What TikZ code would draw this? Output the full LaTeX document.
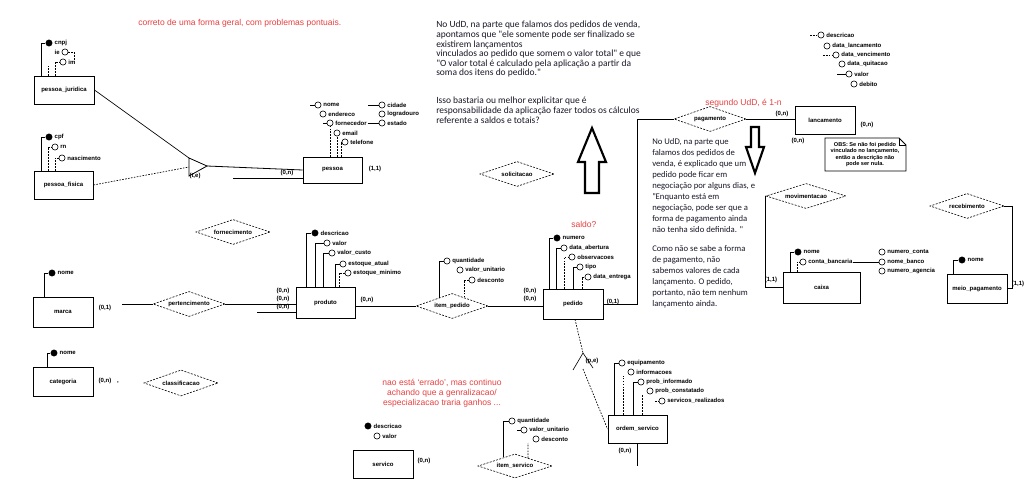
\documentclass[tikz,border=0pt]{standalone}
\usepackage{fontspec}
\newfontfamily\lblfont{Liberation Sans}
\newfontfamily\cmtfont{Carlito}
\usetikzlibrary{shapes.geometric,calc}
\definecolor{redtxt}{RGB}{232,64,64}
\definecolor{cmtcol}{RGB}{25,25,40}
\newcommand{\eratr}[4]{\node[#4] (#1) at (#2) {};\node[lbl, anchor=west] (#1t) at ([xshift=0.8pt]#1.east) {#3};}
\begin{document}
\begin{tikzpicture}[x=0.75pt,y=-0.75pt,
 lbl/.style={font=\lblfont\bfseries\fontsize{4.5}{5}\selectfont, inner sep=0.5pt},
 entity/.style={draw, line width=0.7pt, rectangle, inner sep=0pt, font=\lblfont\bfseries\fontsize{4.5}{5}\selectfont},
 rel/.style={draw, dash pattern=on 1.5pt off 1pt, line width=0.45pt, shape=diamond, aspect=3, inner sep=0pt, font=\lblfont\bfseries\fontsize{4.5}{5}\selectfont},
 att/.style={draw, circle, minimum size=4.6pt, inner sep=0pt, line width=0.45pt},
 keyat/.style={circle, fill=black, minimum size=5.2pt, inner sep=0pt},
 conn/.style={line width=0.6pt},
 dconn/.style={line width=0.5pt, dash pattern=on 1.2pt off 1pt},
 card/.style={lbl},
 redt/.style={font=\lblfont\fontsize{6.4}{7.5}\selectfont, text=redtxt, inner sep=0pt},
 cmt/.style={font=\cmtfont\fontsize{7.1}{7.2}\selectfont, text=cmtcol, align=left, inner sep=0pt, anchor=north west},
 cmtb/.style={font=\cmtfont\fontsize{6.5}{8.25}\selectfont, text=cmtcol, align=left, inner sep=0pt, anchor=north west},
 notet/.style={font=\lblfont\bfseries\fontsize{4.2}{4.9}\selectfont, align=center, inner sep=0pt},
 bigarrow/.style={line width=1.6pt, line join=miter}
]
\fill[white] (0,0) rectangle (1029,481);
\useasboundingbox (0,0) rectangle (1029,481);

% ---------- comments ----------
\node[redt, anchor=west] (r1) at (138,23) {correto de uma forma geral, com problemas pontuais.};
\node[redt, anchor=west] (r2) at (705,103) {segundo UdD, é 1-n};
\node[redt, anchor=west] (r3) at (571,224) {saldo?};
\node[redt, align=center] (r4) at (442,393) {nao está ‘errado’, mas continuo\\achando que a genralizacao/\\especializacao traria ganhos ...};

\node[cmt] (t1) at (436,21) {No UdD, na parte que falamos dos pedidos de venda,\\apontamos que "ele somente pode ser finalizado se\\existirem lançamentos\\vinculados ao pedido que somem o valor total" e que\\"O valor total é calculado pela aplicação a partir da\\soma dos itens do pedido."\\[13.8pt]Isso bastaria ou melhor explicitar que é\\responsabilidade da aplicação fazer todos os cálculos\\referente a saldos e totais?};

\node[cmtb] (t2) at (652,138.5) {No UdD, na parte que\\falamos dos pedidos de\\venda, é explicado que um\\pedido pode ficar em\\negociação por alguns dias, e\\"Enquanto está em\\negociação, pode ser que a\\forma de pagamento ainda\\não tenha sido definida. "\\[6pt]Como não se sabe a forma\\de pagamento, não\\sabemos valores de cada\\lançamento. O pedido,\\portanto, não tem nenhum\\lançamento ainda.};

% big arrows
\draw[bigarrow] (592,128) -- (606,162) -- (599,162) -- (599,193) -- (585,193) -- (585,162) -- (578,162) -- cycle;
\draw[bigarrow] (751,127) -- (759,127) -- (759,147) -- (764,147) -- (755,173) -- (746,147) -- (751,147) -- cycle;

% note
\draw[line width=0.55pt] (825,138) -- (899,138) -- (906,145) -- (906,171) -- (825,171) -- cycle;
\draw[line width=0.35pt] (899,138) -- (899,145) -- (906,145);
\node[notet] (nt) at (865,154.5) {OBS: Se não foi pedido\\vinculado no lançamento,\\então a descrição não\\pode ser nula.};

% ---------- entities ----------
\node[entity, minimum width=45pt, minimum height=21pt] (pj) at (64,90) {pessoa\_juridica};
\node[entity, minimum width=44.25pt, minimum height=21pt] (pf) at (63.5,185) {pessoa\_fisica};
\node[entity, minimum width=44.25pt, minimum height=19.5pt] (ps) at (332.5,170) {pessoa};
\node[entity, minimum width=44.25pt, minimum height=23.25pt] (pr) at (325.5,302.5) {produto};
\node[entity, minimum width=45pt, minimum height=22.5pt] (pe) at (573,304) {pedido};
\node[entity, minimum width=45pt, minimum height=22.5pt] (ma) at (63,312) {marca};
\node[entity, minimum width=45pt, minimum height=21.75pt] (ca) at (63,381.5) {categoria};
\node[entity, minimum width=45pt, minimum height=21pt] (sv) at (383,464) {servico};
\node[entity, minimum width=44.25pt, minimum height=21pt] (os) at (637.5,429) {ordem\_servico};
\node[entity, minimum width=45pt, minimum height=21pt] (la) at (825,120) {lancamento};
\node[entity, minimum width=57.75pt, minimum height=23.25pt] (cx) at (821.5,287.5) {caixa};
\node[entity, minimum width=45pt, minimum height=21.75pt] (mp) at (977,288.5) {meio\_pagamento};

% ---------- relationships ----------
\node[rel, minimum width=55.5pt, minimum height=18.75pt] (fo) at (233,232) {fornecimento};
\node[rel, minimum width=54pt, minimum height=18.75pt] (pt) at (189,304) {pertencimento};
\node[rel, minimum width=55.5pt, minimum height=19.5pt] (cl) at (181,383) {classificacao};
\node[rel, minimum width=55.5pt, minimum height=18.75pt] (so) at (517,174) {solicitacao};
\node[rel, minimum width=54pt, minimum height=18.75pt] (ip) at (452,306) {item\_pedido};
\node[rel, minimum width=55.5pt, minimum height=18pt] (is) at (515,466) {item\_servico};
\node[rel, minimum width=54pt, minimum height=18.75pt] (pg) at (710,119) {pagamento};
\node[rel, minimum width=60pt, minimum height=18.75pt] (mv) at (806,196) {movimentacao};
\node[rel, minimum width=55.5pt, minimum height=18.75pt] (rc) at (967,206) {recebimento};

% ---------- attributes ----------
% pessoa_juridica
\eratr{pj1}{49,43}{cnpj}{keyat}
\node[att] (pj2) at (65,52) {};\node[lbl, anchor=east] (pj2t) at ([xshift=-0.8pt]pj2.west) {ie};
\eratr{pj3}{63,62}{im}{att}
\draw[conn] (pj.north -| 41,0) |- (pj1.west);
\coordinate (pjd1) at (48,66); \draw[dconn] (pj.north -| pjd1) -- (pjd1);
\coordinate (pjd2) at (55,62); \draw[dconn] (pj.north -| pjd2) |- (pj3.west);
\coordinate (pjd4) at (74,60); \draw[dconn] (pj2.east) -| (pjd4);
% pessoa_fisica
\eratr{pf1}{49,137}{cpf}{keyat}
\eratr{pf2}{55,147}{rn}{att}
\eratr{pf3}{62,158}{nascimento}{att}
\draw[conn] (pf.north -| 41,0) |- (pf1.west);
\draw[dconn] (pf.north -| 48,0) |- (pf2.west);
\draw[dconn] (pf.north -| 55,0) |- (pf3.west);
% pessoa
\eratr{ps1}{318,105}{nome}{att}
\eratr{ps2}{323,114}{endereco}{att}
\eratr{ps3}{330,123}{fornecedor}{att}
\eratr{ps4}{382,105}{cidade}{att}
\eratr{ps5}{382,114}{logradouro}{att}
\eratr{ps6}{382,123}{estado}{att}
\eratr{ps7}{337,133}{email}{att}
\eratr{ps8}{345,142}{telefone}{att}
\coordinate (ps1a) at (310,105); \draw[conn] (ps1a) -- (ps1.west);
\coordinate (ps3a) at (323,123); \draw[conn] (ps3a) -- (ps3.west);
\coordinate (ps4a) at (368,105); \draw[conn] (ps4a) -- (ps4.west);
\draw[conn] (ps3t.east) -- (ps6.west);
\draw[dconn] (ps.north -| ps3) -- (ps3.south);
\draw[dconn] (ps.north -| ps7) -- (ps7.south);
\draw[dconn] (ps.north -| 341,0) |- (ps8.west);
% produto
\eratr{pr1}{315,233}{descricao}{keyat}
\eratr{pr2}{327,243}{valor}{att}
\eratr{pr3}{332,253}{valor\_custo}{att}
\eratr{pr4}{343,264}{estoque\_atual}{att}
\eratr{pr5}{348,273}{estoque\_minimo}{att}
\draw[conn] (pr.north -| 306,0) |- (pr1.west);
\draw[conn] (pr.north -| 315,0) |- (pr2.west);
\draw[conn] (pr.north -| 323,0) |- (pr3.west);
\draw[conn] (pr.north -| 335,0) |- (pr4.west);
\draw[dconn] (pr.north -| 339,0) |- (pr5.west);
% item_pedido
\eratr{ip1}{447,261}{quantidade}{att}
\eratr{ip2}{460,270}{valor\_unitario}{att}
\eratr{ip3}{472,280}{desconto}{att}
\draw[conn] ($(ip.north)!0.36!(ip.west)$) |- (ip1.west);
\draw[dconn] ($(ip.north)!0.33!(ip.east)$) |- (ip3.west);
% pedido
\eratr{pe1}{557,238}{numero}{keyat}
\eratr{pe2}{564,248}{data\_abertura}{att}
\eratr{pe3}{572,257}{observacoes}{att}
\eratr{pe4}{580,267}{tipo}{att}
\eratr{pe5}{588,277}{data\_entrega}{att}
\draw[conn] (pe.north -| 549,0) |- (pe1.west);
\draw[conn] (pe.north -| 556,0) |- (pe2.west);
\draw[dconn] (pe.north -| 564,0) |- (pe3.west);
\draw[conn] (pe.north -| 573,0) |- (pe4.west);
\draw[dconn] (pe.north -| 582,0) |- (pe5.west);
% lancamento
\eratr{la1}{821,35}{descricao}{att}
\eratr{la2}{827,46}{data\_lancamento}{att}
\eratr{la3}{836,55}{data\_vencimento}{att}
\eratr{la4}{842,64}{data\_quitacao}{att}
\eratr{la5}{849,74}{valor}{att}
\eratr{la6}{854,84}{debito}{att}
\coordinate (la1a) at (810,35); \draw[dconn] (la1a) -- (la1.west);
\coordinate (la3a) at (823,55); \draw[dconn] (la3a) -- (la3.west);
\coordinate (la5a) at (837,74); \draw[conn] (la5a) -- (la5.west);
% marca, categoria
\eratr{ma1}{52,273}{nome}{keyat}
\draw[conn] (ma.north -| 44,0) |- (ma1.west);
\eratr{ca1}{54,353}{nome}{keyat}
\draw[conn] (ca.north -| 47,0) |- (ca1.west);
% servico
\eratr{sv1}{368,426}{descricao}{keyat}
\eratr{sv2}{377,436}{valor}{att}
% item_servico
\eratr{is1}{512,421}{quantidade}{att}
\eratr{is2}{524,430}{valor\_unitario}{att}
\eratr{is3}{536,439}{desconto}{att}
\draw[conn] ($(is.north)!0.3!(is.west)$) |- (is1.west);
\coordinate (is2a) at (517,430); \draw[conn] (is2a) -- (is2.west);
\coordinate (is3a) at (528,443); \draw[dconn] ($(is.north)!0.35!(is.east)$) -- (is3a);
% ordem_servico
\eratr{os1}{622,363}{equipamento}{att}
\eratr{os2}{631,372}{informacoes}{att}
\eratr{os3}{641,382}{prob\_informado}{att}
\eratr{os4}{650,391}{prob\_constatado}{att}
\eratr{os5}{662,401}{servicos\_realizados}{att}
\draw[conn] (os.north -| 614,0) |- (os1.west);
\coordinate (os2a) at (623,376); \draw[dconn] (os.north -| os2a) -- (os2a);
\draw[conn] (os.north -| 633,0) |- (os3.west);
\coordinate (os4a) at (642,395); \draw[dconn] (os.north -| os4a) -- (os4a);
\coordinate (os5a) at (655,401); \draw[dconn] (os5a) -- (os5.west);
% caixa
\eratr{cx1}{798,252}{nome}{keyat}
\eratr{cx2}{803,262}{conta\_bancaria}{att}
\eratr{cx3}{882,252}{numero\_conta}{att}
\eratr{cx4}{882,262}{nome\_banco}{att}
\eratr{cx5}{882,271}{numero\_agencia}{att}
\draw[conn] (cx.north -| 790,0) |- (cx1.west);
\draw[dconn] (cx.north -| 797,0) |- (cx2.west);
\draw[conn] (cx2t.east) -- (cx4.west);
% meio_pagamento
\eratr{mp1}{962,260}{nome}{keyat}
\draw[conn] (mp.north -| 953,0) |- (mp1.west);

% ---------- connectors ----------
\coordinate (gT) at (189,158); \coordinate (gB) at (189,176);
\coordinate (gA) at (207,166); \coordinate (gM) at (189,167);
\draw[conn] (gT) -- (gA) -- (gB) -- cycle;
\draw[line width=0.5pt] (pj.east) -- (gT);
\draw[dconn] (pf.east) -- (gM);
\draw[conn] (gA) -- (ps.west);
\coordinate (g2) at (233,178); \draw[conn] (g2) -- (g2 -| ps.west);

\coordinate (m1) at (122,304); \draw[conn] (m1) -- (pt.west);
\draw[conn] (pt.east) -- (pt.east -| pr.west);
\coordinate (m2) at (257,312); \draw[conn] (m2) -- (m2 -| pr.west);
\draw[conn] (pr.east |- ip.west) -- (ip.west);
\draw[conn] (ip.east) -- (ip.east -| pe.west);
\draw[conn] (pe.east) -| (pg.west -| 637,0) -- (pg.west);
\draw[conn] (pg.east) -- (pg.east -| la.west);
\draw[conn] (mv.west) |- (cx.west);
\draw[conn] (rc.east) -| (mp.east -| 1012,0) -- (mp.east);

\coordinate (sA) at (583,353); \coordinate (sL) at (573,370);
\coordinate (sR) at (593,368); \coordinate (sM) at (583,369);
\draw[dconn] (pe.south -| 575,0) -- (sA);
\draw[line width=0.45pt] (sL) -- (sA) -- (sR);
\draw[dconn] (sM) -- (os.west);
\coordinate (oe) at (637,466); \draw[conn] (os.south -| oe) -- (oe);

% ---------- cardinalities ----------
\node[card] (c1) at (195,176) {(t,e)};
\node[card] (c2) at (287,173) {(0,n)};
\node[card] (c3) at (375,169) {(1,1)};
\node[card] (c4) at (105,308) {(0,1)};
\node[card] (c5) at (283,291) {(0,n)};
\node[card] (c6) at (283,299) {(0,n)};
\node[card] (c7) at (283,307) {(0,n)};
\node[card] (c8) at (367,300) {(0,n)};
\node[card] (c9) at (530,291) {(0,n)};
\node[card] (c10) at (530,299) {(0,n)};
\node[card] (c11) at (613,302) {(0,1)};
\node[card] (c12) at (782,114) {(0,n)};
\node[card] (c13) at (867,125) {(0,n)};
\node[card] (c14) at (798,141) {(0,n)};
\node[card] (c15) at (771,280) {(1,1)};
\node[card] (c16) at (1018,284) {(1,1)};
\node[card] (c17) at (105,381) {(0,n)};
\node[card] (c18) at (118,383) {,};
\node[card] (c19) at (424,461) {(0,n)};
\node[card] (c20) at (592,361) {(p,e)};
\node[card] (c21) at (625,451) {(0,n)};
\end{tikzpicture}
\end{document}
